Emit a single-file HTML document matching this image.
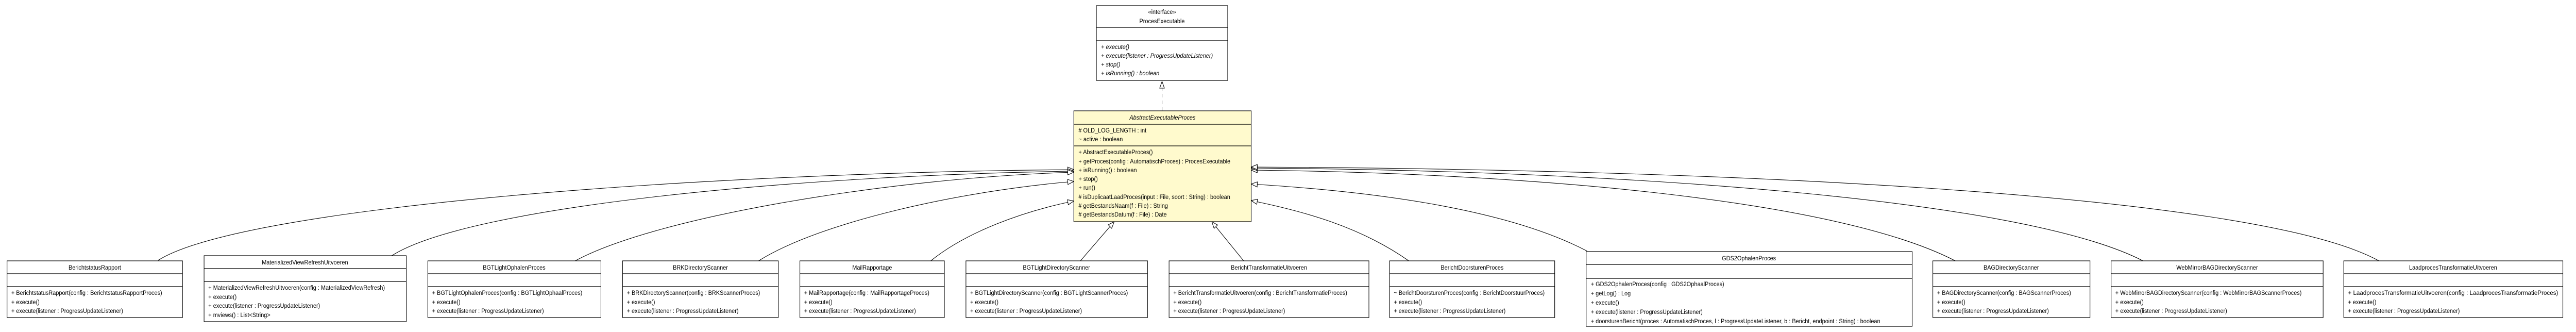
<!DOCTYPE html>
<html><head><meta charset="utf-8"><style>
html,body{margin:0;padding:0;background:#fff;width:100%;height:100%;overflow:hidden;}
svg{display:block;width:100vw;height:100vh;}
text{font-family:"Liberation Sans",Arial,sans-serif;font-size:12px;fill:#000;}
.t{text-anchor:middle;}
.i{font-style:italic;}
.b{fill:#fff;stroke:#000;stroke-width:1.2;}
.y{fill:#fffacd;stroke:#000;stroke-width:1.2;}
.l{stroke:#000;stroke-width:1.2;}
.c{fill:none;stroke:#000;stroke-width:1.1;}
</style></head><body>
<svg viewBox="0 0 5491 644" preserveAspectRatio="none" xmlns="http://www.w3.org/2000/svg">
<defs>
<marker id="tri" viewBox="0 0 14 12" refX="14" refY="6" markerWidth="14" markerHeight="12" markerUnits="userSpaceOnUse" orient="auto">
<path d="M1,1 L14,6 L1,11 Z" fill="#fff" stroke="#000" stroke-width="1.1"/>
</marker>
</defs>

<!-- Interface -->
<rect class="b" x="2337" y="11" width="280" height="145"/>
<line class="l" x1="2337" y1="53" x2="2617" y2="53"/>
<line class="l" x1="2337" y1="79" x2="2617" y2="79"/>
<text class="t" x="2477" y="27">«interface»</text>
<text class="t" x="2477" y="45">ProcesExecutable</text>
<text class="i" x="2347" y="95">+ execute()</text>
<text class="i" x="2347" y="112">+ execute(listener : ProgressUpdateListener)</text>
<text class="i" x="2347" y="129">+ stop()</text>
<text class="i" x="2347" y="146">+ isRunning() : boolean</text>

<!-- realization -->
<line x1="2477" y1="215" x2="2477" y2="158" stroke="#000" stroke-width="1.1" stroke-dasharray="7,6" marker-end="url(#tri)"/>

<!-- Abstract -->
<rect class="y" x="2289" y="215" width="378" height="215"/>
<line class="l" x1="2289" y1="241" x2="2667" y2="241"/>
<line class="l" x1="2289" y1="283" x2="2667" y2="283"/>
<text class="t i" x="2478" y="232">AbstractExecutableProces</text>
<text x="2299" y="257"># OLD_LOG_LENGTH : int</text>
<text x="2299" y="274">~ active : boolean</text>
<text x="2299" y="299">+ AbstractExecutableProces()</text>
<text x="2299" y="317">+ getProces(config : AutomatischProces) : ProcesExecutable</text>
<text x="2299" y="334">+ isRunning() : boolean</text>
<text x="2299" y="351">+ stop()</text>
<text x="2299" y="368">+ run()</text>
<text x="2299" y="386"># isDuplicaatLaadProces(input : File, soort : String) : boolean</text>
<text x="2299" y="403"># getBestandsNaam(f : File) : String</text>
<text x="2299" y="420"># getBestandsDatum(f : File) : Date</text>

<!-- connectors -->
<path class="c" marker-end="url(#tri)" d="M337,505 C520,400 1500,335 2289,329"/>
<path class="c" marker-end="url(#tri)" d="M835,496 C1000,400 1700,340 2289,332"/>
<path class="c" marker-end="url(#tri)" d="M1226,506 C1400,420 1900,345 2289,334"/>
<path class="c" marker-end="url(#tri)" d="M1617,506 C1750,430 2050,370 2289,352"/>
<path class="c" marker-end="url(#tri)" d="M1984,506 C2060,450 2180,410 2289,390"/>
<path class="c" marker-end="url(#tri)" d="M2303,506 L2375,430"/>
<path class="c" marker-end="url(#tri)" d="M2651,506 L2583,430"/>
<path class="c" marker-end="url(#tri)" d="M3003,506 C2900,440 2780,410 2667,389"/>
<path class="c" marker-end="url(#tri)" d="M3383,487 C3200,400 2900,370 2667,357"/>
<path class="c" marker-end="url(#tri)" d="M4168,506 C3900,380 3200,335 2667,330"/>
<path class="c" marker-end="url(#tri)" d="M4568,506 C4300,380 3400,330 2667,326"/>
<path class="c" marker-end="url(#tri)" d="M5071,506 C4800,370 3600,328 2667,324"/>

<!-- Bottom boxes -->
<rect class="b" x="15" y="506" width="374" height="110"/>
<line class="l" x1="15" y1="531" x2="389" y2="531"/><line class="l" x1="15" y1="556" x2="389" y2="556"/>
<text class="t" x="202" y="523">BerichtstatusRapport</text>
<text x="24" y="572">+ BerichtstatusRapport(config : BerichtstatusRapportProces)</text>
<text x="24" y="590">+ execute()</text>
<text x="24" y="607">+ execute(listener : ProgressUpdateListener)</text>

<rect class="b" x="435" y="496" width="431" height="128"/>
<line class="l" x1="435" y1="521" x2="866" y2="521"/><line class="l" x1="435" y1="546" x2="866" y2="546"/>
<text class="t" x="650" y="513">MaterializedViewRefreshUitvoeren</text>
<text x="444" y="562">+ MaterializedViewRefreshUitvoeren(config : MaterializedViewRefresh)</text>
<text x="444" y="580">+ execute()</text>
<text x="444" y="597">+ execute(listener : ProgressUpdateListener)</text>
<text x="444" y="615">+ mviews() : List&lt;String&gt;</text>

<rect class="b" x="912" y="506" width="369" height="110"/>
<line class="l" x1="912" y1="531" x2="1281" y2="531"/><line class="l" x1="912" y1="556" x2="1281" y2="556"/>
<text class="t" x="1096" y="523">BGTLightOphalenProces</text>
<text x="921" y="572">+ BGTLightOphalenProces(config : BGTLightOphaalProces)</text>
<text x="921" y="590">+ execute()</text>
<text x="921" y="607">+ execute(listener : ProgressUpdateListener)</text>

<rect class="b" x="1327" y="506" width="332" height="110"/>
<line class="l" x1="1327" y1="531" x2="1659" y2="531"/><line class="l" x1="1327" y1="556" x2="1659" y2="556"/>
<text class="t" x="1493" y="523">BRKDirectoryScanner</text>
<text x="1336" y="572">+ BRKDirectoryScanner(config : BRKScannerProces)</text>
<text x="1336" y="590">+ execute()</text>
<text x="1336" y="607">+ execute(listener : ProgressUpdateListener)</text>

<rect class="b" x="1705" y="506" width="308" height="110"/>
<line class="l" x1="1705" y1="531" x2="2013" y2="531"/><line class="l" x1="1705" y1="556" x2="2013" y2="556"/>
<text class="t" x="1859" y="523">MailRapportage</text>
<text x="1714" y="572">+ MailRapportage(config : MailRapportageProces)</text>
<text x="1714" y="590">+ execute()</text>
<text x="1714" y="607">+ execute(listener : ProgressUpdateListener)</text>

<rect class="b" x="2059" y="506" width="387" height="110"/>
<line class="l" x1="2059" y1="531" x2="2446" y2="531"/><line class="l" x1="2059" y1="556" x2="2446" y2="556"/>
<text class="t" x="2252" y="523">BGTLightDirectoryScanner</text>
<text x="2068" y="572">+ BGTLightDirectoryScanner(config : BGTLightScannerProces)</text>
<text x="2068" y="590">+ execute()</text>
<text x="2068" y="607">+ execute(listener : ProgressUpdateListener)</text>

<rect class="b" x="2492" y="506" width="426" height="110"/>
<line class="l" x1="2492" y1="531" x2="2918" y2="531"/><line class="l" x1="2492" y1="556" x2="2918" y2="556"/>
<text class="t" x="2705" y="523">BerichtTransformatieUitvoeren</text>
<text x="2501" y="572">+ BerichtTransformatieUitvoeren(config : BerichtTransformatieProces)</text>
<text x="2501" y="590">+ execute()</text>
<text x="2501" y="607">+ execute(listener : ProgressUpdateListener)</text>

<rect class="b" x="2962" y="506" width="352" height="110"/>
<line class="l" x1="2962" y1="531" x2="3314" y2="531"/><line class="l" x1="2962" y1="556" x2="3314" y2="556"/>
<text class="t" x="3138" y="523">BerichtDoorsturenProces</text>
<text x="2971" y="572">~ BerichtDoorsturenProces(config : BerichtDoorstuurProces)</text>
<text x="2971" y="590">+ execute()</text>
<text x="2971" y="607">+ execute(listener : ProgressUpdateListener)</text>

<rect class="b" x="3381" y="488" width="695" height="145"/>
<line class="l" x1="3381" y1="513" x2="4076" y2="513"/><line class="l" x1="3381" y1="540" x2="4076" y2="540"/>
<text class="t" x="3728" y="505">GDS2OphalenProces</text>
<text x="3391" y="555">+ GDS2OphalenProces(config : GDS2OphaalProces)</text>
<text x="3391" y="573">+ getLog() : Log</text>
<text x="3391" y="591">+ execute()</text>
<text x="3391" y="609">+ execute(listener : ProgressUpdateListener)</text>
<text x="3391" y="627">+ doorsturenBericht(proces : AutomatischProces, l : ProgressUpdateListener, b : Bericht, endpoint : String) : boolean</text>

<rect class="b" x="4120" y="506" width="335" height="110"/>
<line class="l" x1="4120" y1="531" x2="4455" y2="531"/><line class="l" x1="4120" y1="556" x2="4455" y2="556"/>
<text class="t" x="4287" y="523">BAGDirectoryScanner</text>
<text x="4129" y="572">+ BAGDirectoryScanner(config : BAGScannerProces)</text>
<text x="4129" y="590">+ execute()</text>
<text x="4129" y="607">+ execute(listener : ProgressUpdateListener)</text>

<rect class="b" x="4500" y="506" width="452" height="110"/>
<line class="l" x1="4500" y1="531" x2="4952" y2="531"/><line class="l" x1="4500" y1="556" x2="4952" y2="556"/>
<text class="t" x="4726" y="523">WebMirrorBAGDirectoryScanner</text>
<text x="4509" y="572">+ WebMirrorBAGDirectoryScanner(config : WebMirrorBAGScannerProces)</text>
<text x="4509" y="590">+ execute()</text>
<text x="4509" y="607">+ execute(listener : ProgressUpdateListener)</text>

<rect class="b" x="4996" y="506" width="467" height="110"/>
<line class="l" x1="4996" y1="531" x2="5463" y2="531"/><line class="l" x1="4996" y1="556" x2="5463" y2="556"/>
<text class="t" x="5229" y="523">LaadprocesTransformatieUitvoeren</text>
<text x="5005" y="572" textLength="448" lengthAdjust="spacingAndGlyphs">+ LaadprocesTransformatieUitvoeren(config : LaadprocesTransformatieProces)</text>
<text x="5005" y="590">+ execute()</text>
<text x="5005" y="607">+ execute(listener : ProgressUpdateListener)</text>
</svg>
</body></html>
